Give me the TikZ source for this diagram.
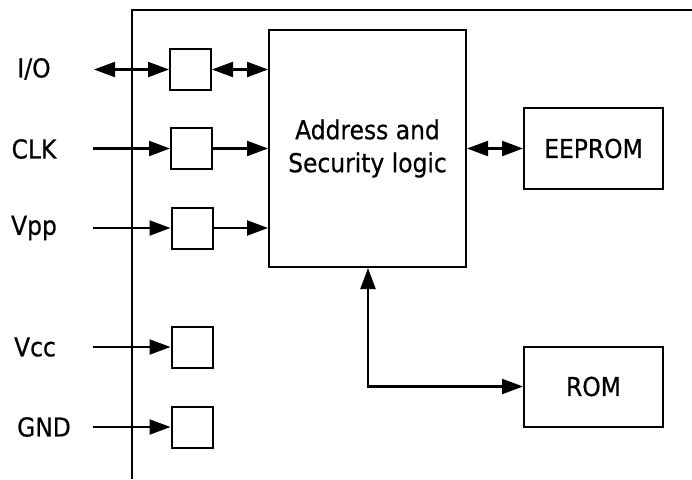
\documentclass[tikz,border=0pt]{standalone}
\usepackage{fontspec}
\setmainfont{DejaVu Sans}[FakeStretch=0.9,FakeBold=0.6]
\usetikzlibrary{arrows.meta}
\begin{document}
\begin{tikzpicture}[x=1pt,y=-1pt,
  lbl/.style={font=\fontsize{26}{33}\selectfont, inner sep=0pt},
  pad/.style={draw, line width=2pt, minimum width=41pt, minimum height=41pt, inner sep=0pt},
  blk/.style={draw, line width=2pt, inner sep=0pt, font=\fontsize{26}{33}\selectfont, align=center},
  conn/.style={line width=2.2pt, -{Triangle[length=21pt,width=15pt]}},
  bconn/.style={line width=2.2pt, {Triangle[length=21pt,width=15pt]}-{Triangle[length=21pt,width=15pt]}},
  frame/.style={line width=2pt}]
\useasboundingbox (0,0) rectangle (692,479);
\fill[white] (0,0) rectangle (692,479);
% card outline
\coordinate (fb) at (132,479);
\coordinate (ft) at (132,10);
\coordinate (fr) at (692,10);
\draw[frame] (fb) -- (ft) -- (fr);
% main blocks
\node[blk, minimum width=197pt, minimum height=237pt] (main) at (367.5,148.5) {Address and\\Security logic};
\node[blk, minimum width=139pt, minimum height=81pt] (eeprom) at (593.5,148.5) {EEPROM};
\node[blk, minimum width=139pt, minimum height=80pt] (rom) at (593.5,386.5) {ROM};
% pads
\node[pad] (iob) at (190.5,69.5) {};
\node[pad] (clkb) at (191.5,148.5) {};
\node[pad] (vppb) at (192,228) {};
\node[pad] (vccb) at (192,347) {};
\node[pad] (gndb) at (192,427) {};
% labels
\node[lbl] (io) at (34,69) {I/O};
\node[lbl] (clk) at (34,149) {CLK};
\node[lbl] (vpp) at (34,228) {Vpp};
\node[lbl] (vcc) at (35,347) {Vcc};
\node[lbl] (gnd) at (44,427) {GND};
% connector start points
\coordinate (ios) at (94,69.5);
\coordinate (clks) at (93,148.5);
\coordinate (vpps) at (93,228);
\coordinate (vccs) at (93,347);
\coordinate (gnds) at (93,427);
% connectors
\draw[bconn] (ios) -- (iob.west);
\draw[bconn] (iob.east) -- (iob.east -| main.west);
\draw[conn] (clks) -- (clkb.west);
\draw[conn] (clkb.east) -- (clkb.east -| main.west);
\draw[conn] (vpps) -- (vppb.west);
\draw[conn] (vppb.east) -- (vppb.east -| main.west);
\draw[conn] (vccs) -- (vccb.west);
\draw[conn] (gnds) -- (gndb.west);
\draw[bconn] (main.east |- eeprom.west) -- (eeprom.west);
\coordinate (rc) at (368,386.5);
\draw[bconn] (rc |- main.south) -- (rc) -- (rom.west);
\end{tikzpicture}
\end{document}
